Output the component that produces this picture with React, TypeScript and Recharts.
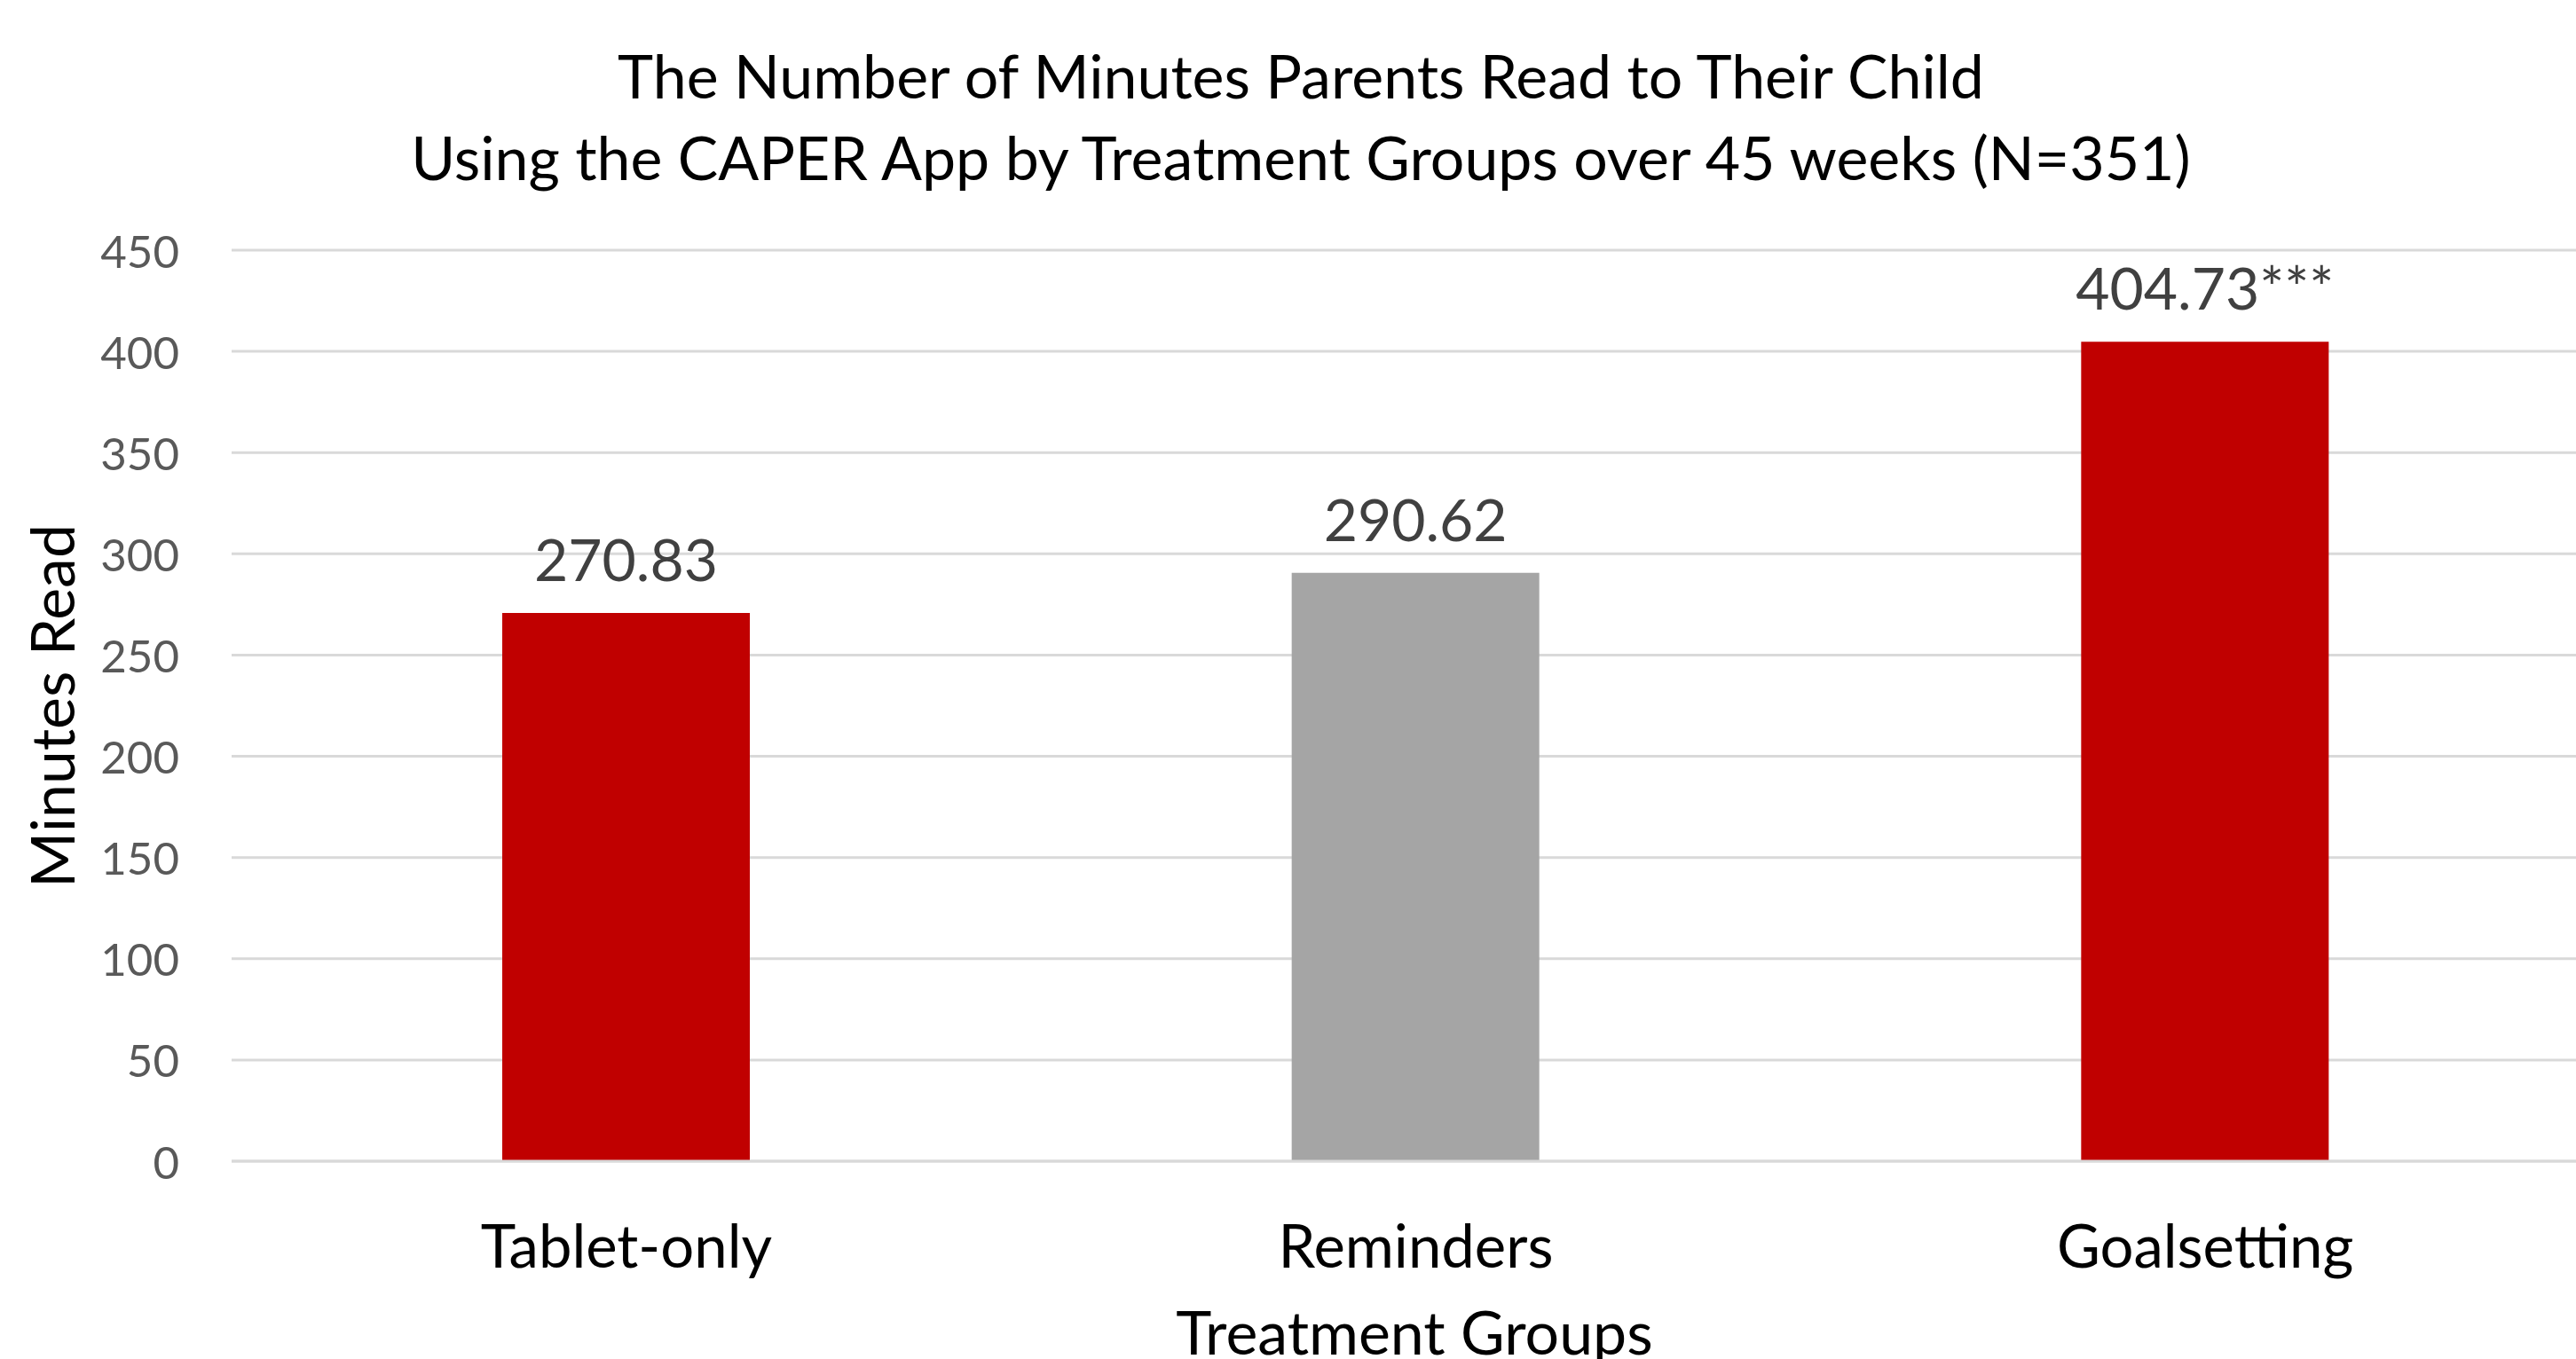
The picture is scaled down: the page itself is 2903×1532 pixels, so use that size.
import { BarChart, Bar, XAxis, YAxis, CartesianGrid, Cell, LabelList } from 'recharts'

const groups = ['Tablet-only', 'Reminders', 'Goalsetting']
const minutes = [270.83, 290.62, 404.73]
const significance = ['', '', '***']
const barColors = ['#C00000', '#A5A5A5', '#C00000']
const yTicks = [0, 50, 100, 150, 200, 250, 300, 350, 400, 450]

const titleLines = [
  'The Number of Minutes Parents Read to Their Child',
  'Using the CAPER App by Treatment Groups over 45 weeks (N=351)',
]

const data = groups.map((g, i) => ({
  group: g,
  minutes: minutes[i],
  label: minutes[i].toFixed(2) + significance[i],
}))

const font = 'Lato, "Open Sans", sans-serif'

const XTick = (props: any) => {
  const { x, y, payload } = props
  return (
    <text x={x} y={y + 118} textAnchor="middle" fill="#000" fontSize={67} fontFamily={font}>
      {payload.value}
    </text>
  )
}

const YTick = (props: any) => {
  const { x, y, payload } = props
  return (
    <text x={x - 57} y={y} textAnchor="end" dominantBaseline="central" fill="#595959" fontSize={51} fontFamily={font}>
      {payload.value}
    </text>
  )
}

export default function App() {
  return (
    <div style={{ position: 'fixed', left: 0, top: 0, width: 2903, height: 1532, overflow: 'hidden', background: '#fff' }}>
      <BarChart
        width={2930}
        height={1532}
        data={data}
        margin={{ top: 282, right: 0, bottom: 123, left: 0 }}
      >
        <CartesianGrid vertical={false} stroke="#d9d9d9" strokeWidth={3} />
        <XAxis
          dataKey="group"
          height={100}
          axisLine={{ stroke: '#d9d9d9', strokeWidth: 3 }}
          tickLine={false}
          tickSize={0}
          tick={<XTick />}
        />
        <YAxis
          width={261}
          domain={[0, 450]}
          ticks={yTicks}
          axisLine={false}
          tickLine={false}
          tickSize={0}
          tick={<YTick />}
        />
        <Bar dataKey="minutes" barSize={279} isAnimationActive={false}>
          {data.map((d, i) => (
            <Cell key={d.group} fill={barColors[i]} />
          ))}
          <LabelList dataKey="label" position="top" offset={36} fill="#404040" fontSize={66} fontFamily={font} />
        </Bar>
        <text x={1466} y={111} textAnchor="middle" fill="#000" fontSize={68} fontFamily={font}>
          {titleLines[0]}
        </text>
        <text x={1466} y={203} textAnchor="middle" fill="#000" fontSize={68} fontFamily={font}>
          {titleLines[1]}
        </text>
        <text x={1594} y={1527} textAnchor="middle" fill="#000" fontSize={68} fontFamily={font}>
          Treatment Groups
        </text>
        <text x={84} y={796} transform="rotate(-90 84 796)" textAnchor="middle" fill="#000" fontSize={68} fontFamily={font}>
          Minutes Read
        </text>
      </BarChart>
    </div>
  )
}
